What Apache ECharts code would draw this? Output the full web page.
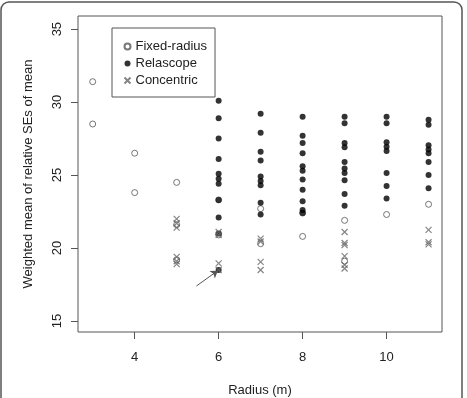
<!DOCTYPE html>
<html>
<head>
<meta charset="utf-8">
<script src="https://cdn.jsdelivr.net/npm/echarts@6/dist/echarts.min.js"></script>
<style>
  html, body { margin: 0; padding: 0; background: #fff; }
  #chart { width: 467px; height: 398px; }
</style>
</head>
<body>
<div id="chart"></div>
<script>
// ---- data ----
const xTicks = [4, 6, 8, 10];
const yTicks = [15, 20, 25, 30, 35];

const fixedRadius = [3, 3, 4, 4, 5, 5, 5, 6, 6, 7, 7, 8, 8, 9, 9, 10, 11];
const fixedValue  = [31.4, 28.5, 26.5, 23.8, 24.5, 21.6, 19.2, 23.3, 20.9, 22.7, 20.3, 22.4, 20.8, 21.9, 19.1, 22.3, 23.0];

const relaRadius = [6, 6, 6, 6, 6, 6, 6, 6, 6, 6, 6,
                    7, 7, 7, 7, 7, 7, 7, 7, 7,
                    8, 8, 8, 8, 8, 8, 8, 8, 8, 8, 8,
                    9, 9, 9, 9, 9, 9, 9, 9, 9, 9,
                    10, 10, 10, 10, 10, 10, 10, 10,
                    11, 11, 11, 11, 11, 11, 11, 11];
const relaValue  = [30.1, 28.9, 27.5, 26.1, 25.1, 24.75, 24.4, 23.3, 22.1, 21.0, 18.5,
                    29.2, 27.9, 26.6, 26.0, 24.9, 24.6, 24.3, 23.1, 22.3,
                    29.0, 27.7, 27.2, 26.5, 25.6, 25.3, 24.7, 24.0, 23.2, 22.6, 22.4,
                    29.0, 28.55, 27.2, 26.9, 25.9, 25.45, 25.15, 24.65, 23.7, 22.9,
                    29.0, 28.55, 27.25, 26.95, 26.65, 25.15, 24.25, 23.4,
                    28.8, 28.45, 27.05, 26.75, 26.5, 25.9, 25.0, 24.1];

const concRadius = [5, 5, 5, 5, 5, 5, 6, 6, 6, 6, 7, 7, 7, 7, 9, 9, 9, 9, 9, 9, 11, 11, 11];
const concValue  = [22.0, 21.7, 21.4, 19.4, 19.1, 18.9, 21.1, 20.9, 18.95, 18.5, 20.65, 20.45, 19.05, 18.5,
                    21.1, 20.35, 20.2, 19.45, 18.85, 18.6, 21.25, 20.4, 20.25];

const pairs = (xs, ys) => xs.map((x, i) => [x, ys[i]]);

const chart = echarts.init(document.getElementById('chart'));

const crossPath = 'path://M0,0L10,10M10,0L0,10';
const font = 'Liberation Sans, Arial, sans-serif';

chart.setOption({
  animation: false,
  backgroundColor: '#fff',
  textStyle: { fontFamily: font },
  grid: {
    left: 78, right: 25, top: 16, bottom: 66,
    outerBoundsMode: 'none',
    containLabel: false,
    show: true, borderColor: '#555', borderWidth: 1
  },
  legend: {
    orient: 'vertical',
    left: 112, top: 28,
    padding: [12, 8, 10, 10],
    itemWidth: 6, itemHeight: 6,
    itemGap: 4,
    borderColor: '#555', borderWidth: 1,
    textStyle: { fontSize: 13, color: '#222', fontFamily: font },
    data: ['Fixed-radius', 'Relascope', 'Concentric']
  },
  xAxis: {
    type: 'value',
    min: 2.65, max: 11.32,
    name: 'Radius (m)',
    nameLocation: 'middle',
    nameGap: 52,
    nameTextStyle: { fontSize: 13, color: '#222' },
    splitLine: { show: false },
    axisLine: { show: false },
    axisTick: { show: true, length: 7, customValues: xTicks, lineStyle: { color: '#555' } },
    axisLabel: { customValues: xTicks, margin: 19, fontSize: 13, color: '#222' }
  },
  yAxis: {
    type: 'value',
    min: 14.25, max: 35.9,
    name: 'Weighted mean of relative SEs of mean',
    nameLocation: 'middle',
    nameGap: 43,
    nameTextStyle: { fontSize: 13, color: '#222' },
    splitLine: { show: false },
    axisLine: { show: false },
    axisTick: { show: true, length: 7, customValues: yTicks, lineStyle: { color: '#555' } },
    axisLabel: { customValues: yTicks, rotate: 90, margin: 14, fontSize: 13, color: '#222' }
  },
  graphic: [{
    type: 'rect',
    shape: { x: 1, y: 2, width: 461, height: 420, r: 8 },
    style: { fill: 'none', stroke: '#555', lineWidth: 1.5 },
    silent: true
  }],
  series: [
    {
      name: 'Fixed-radius', type: 'scatter', symbol: 'circle', symbolSize: 6,
      itemStyle: { color: '#fff', borderColor: '#555', borderWidth: 1 },
      data: pairs(fixedRadius, fixedValue),
      z: 2
    },
    {
      name: 'Relascope', type: 'scatter', symbol: 'circle', symbolSize: 6,
      itemStyle: { color: '#000' },
      data: pairs(relaRadius, relaValue),
      z: 3,
      markLine: {
        silent: true,
        symbol: ['none', 'arrow'],
        symbolSize: 7,
        label: { show: false },
        lineStyle: { color: '#555', width: 1, type: 'solid' },
        data: [[{ coord: [5.47, 17.4] }, { coord: [5.98, 18.45] }]]
      }
    },
    {
      name: 'Concentric', type: 'scatter', symbol: crossPath, symbolSize: 6,
      itemStyle: { color: 'none', borderColor: '#666', borderWidth: 1.2 },
      data: pairs(concRadius, concValue),
      z: 4
    }
  ]
});
</script>
</body>
</html>
